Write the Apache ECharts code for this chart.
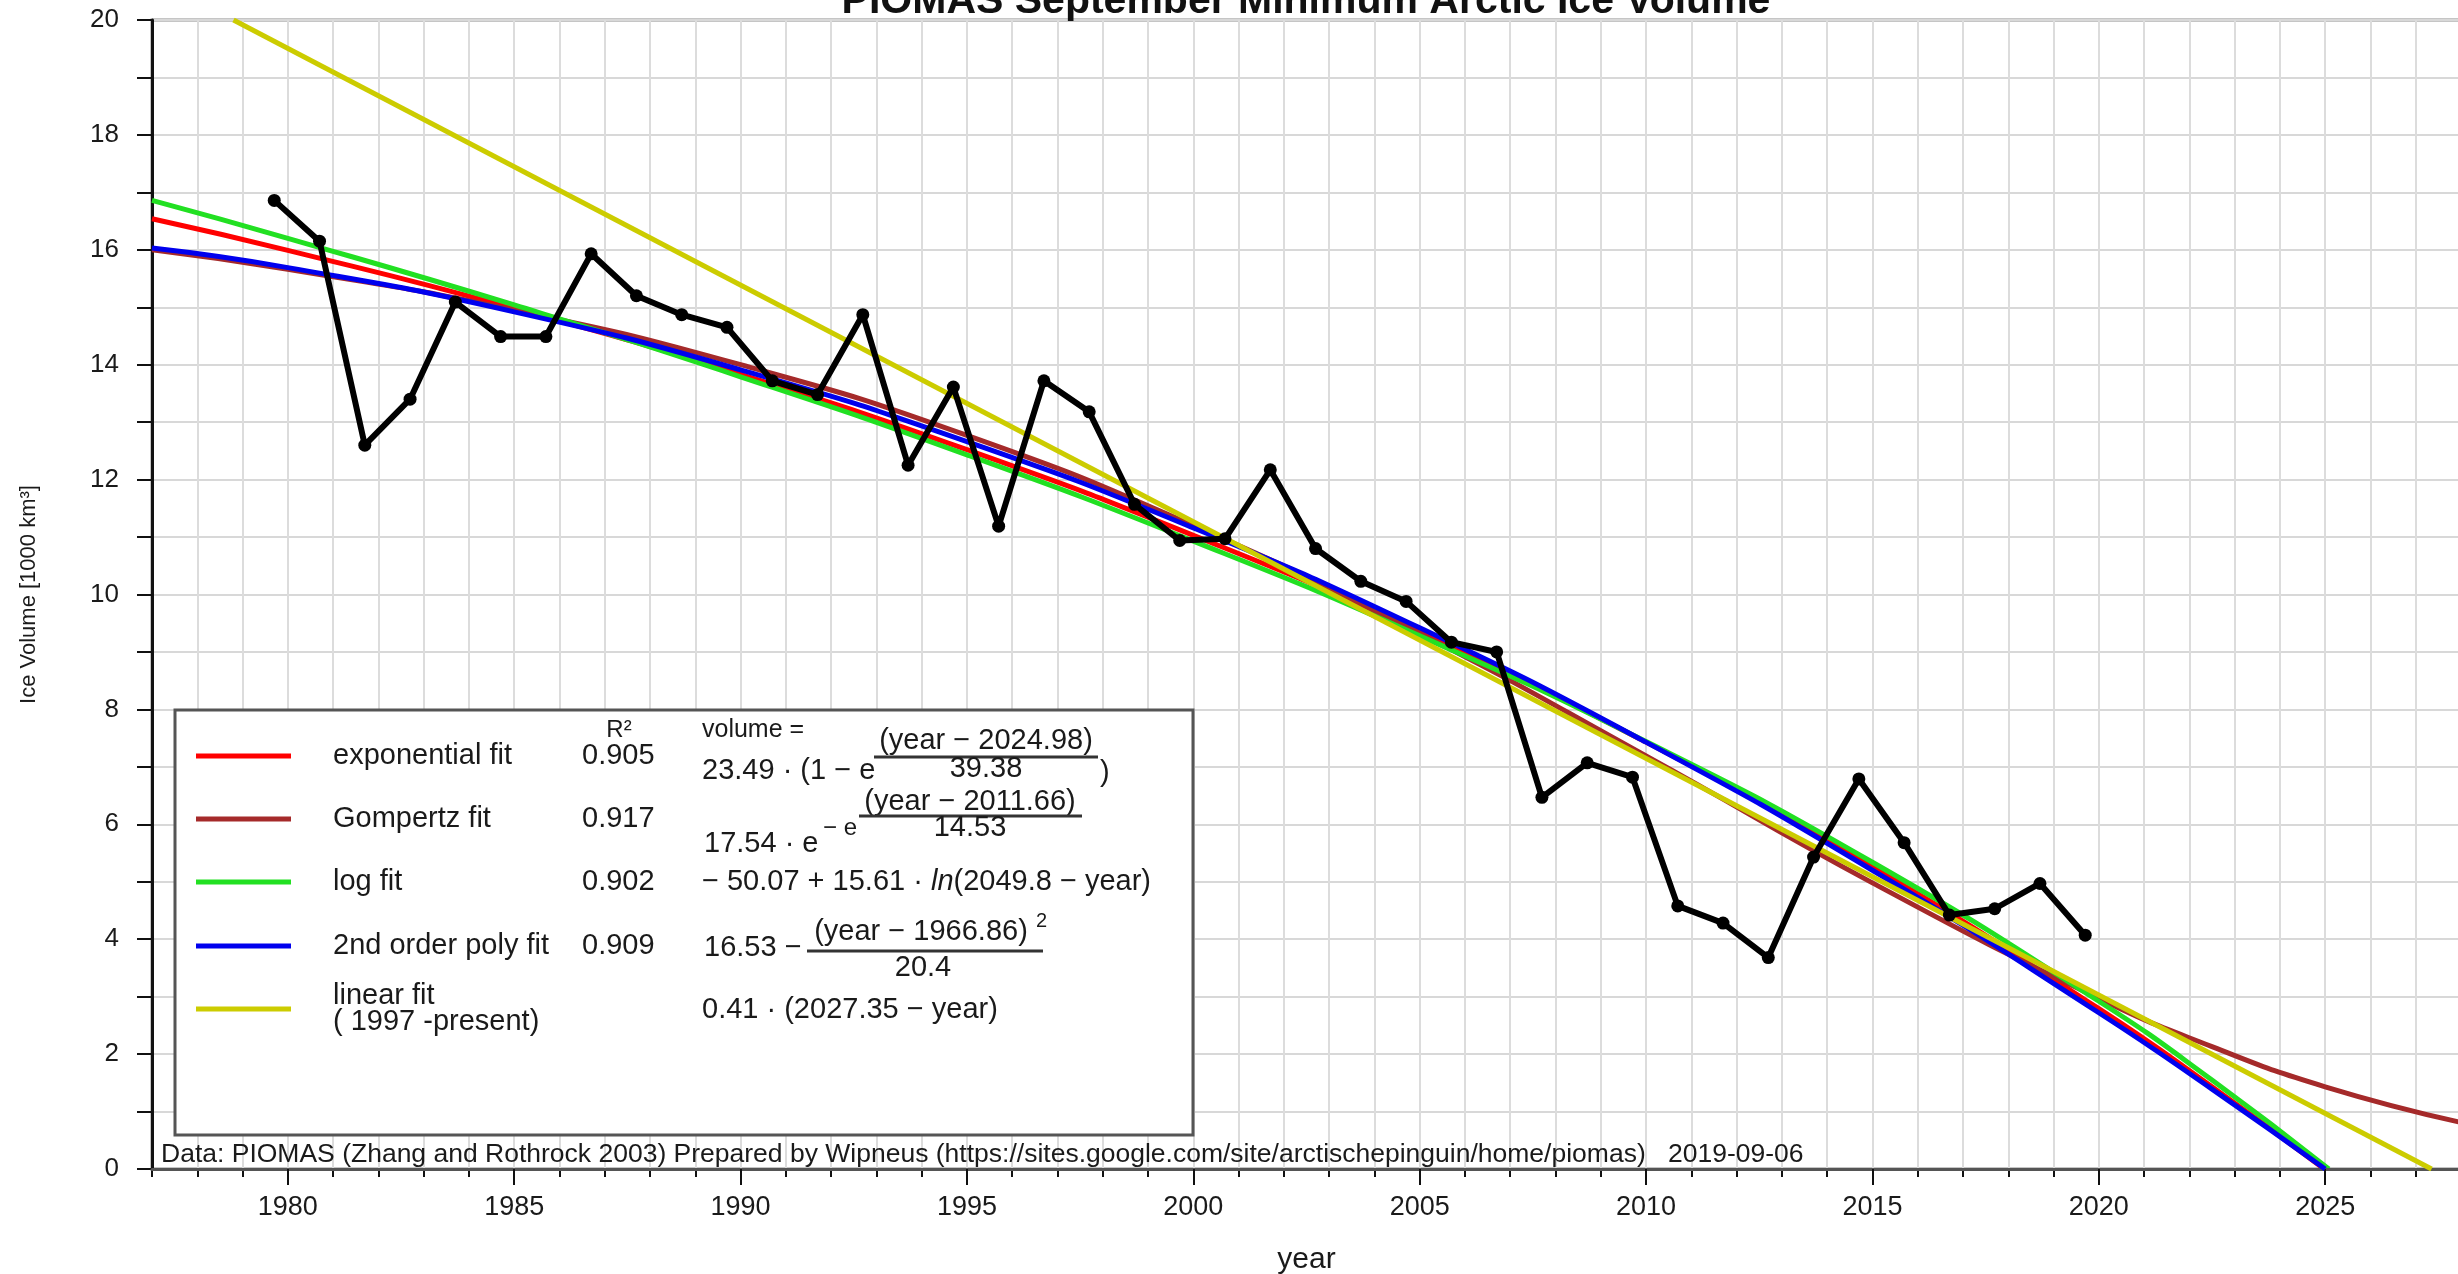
<!DOCTYPE html>
<html>
<head>
<meta charset="utf-8">
<title>PIOMAS September Minimum Arctic Ice Volume</title>
<script src="https://cdn.jsdelivr.net/npm/echarts@6/dist/echarts.min.js"></script>
<style>
  html, body { margin: 0; padding: 0; background: #fff; }
  #chart { width: 2458px; height: 1274px; }
</style>
</head>
<body>
<div id="chart"></div>
<script>
// PIOMAS September minimum (1000 km3)
const years = [1979, 1980, 1981, 1982, 1983, 1984, 1985, 1986, 1987, 1988,
  1989, 1990, 1991, 1992, 1993, 1994, 1995, 1996, 1997, 1998,
  1999, 2000, 2001, 2002, 2003, 2004, 2005, 2006, 2007, 2008,
  2009, 2010, 2011, 2012, 2013, 2014, 2015, 2016, 2017, 2018, 2019];
const volume = [16.86, 16.15, 12.60, 13.40, 15.09, 14.49, 14.49, 15.93, 15.20, 14.87,
  14.65, 13.72, 13.48, 14.87, 12.25, 13.61, 11.19, 13.72, 13.18, 11.57,
  10.94, 10.97, 12.17, 10.80, 10.23, 9.88, 9.17, 9.00, 6.47, 7.07,
  6.82, 4.58, 4.28, 3.68, 5.43, 6.79, 5.68, 4.42, 4.53, 4.97, 4.07];
const septemberOffset = 0.7; // minimum is plotted at mid-September

// fit curves, sampled off the plot
const expYears = [1977, 1980, 1985, 1990, 1995, 2000, 2005, 2010, 2015, 2020, 2022.5, 2024.98];
const expValues = [16.54, 15.99, 14.98, 13.83, 12.52, 11.03, 9.35, 7.43, 5.26, 2.79, 1.43, 0];
const gompYears = [1977, 1980, 1985, 1990, 1995, 2000, 2005, 2010, 2015, 2020, 2022.5, 2025, 2028];
const gompValues = [16.00, 15.66, 14.95, 14.00, 12.77, 11.20, 9.32, 7.19, 4.98, 2.97, 2.13, 1.43, 0.81];
const logYears = [1977, 1980, 1985, 1990, 1995, 2000, 2005, 2010, 2015, 2020, 2022.5, 2025.08];
const logValues = [16.86, 16.20, 15.04, 13.79, 12.43, 10.93, 9.28, 7.44, 5.34, 2.92, 1.55, 0];
const polyYears = [1977, 1980, 1985, 1990, 1995, 2000, 2005, 2010, 2015, 2020, 2022.5, 2025];
const polyValues = [16.03, 15.69, 14.92, 13.91, 12.66, 11.16, 9.42, 7.43, 5.20, 2.72, 1.39, 0];
const linYears = [1978.8, 2027.35];
const linValues = [20, 0];

const xLabelYears = [1980, 1985, 1990, 1995, 2000, 2005, 2010, 2015, 2020, 2025];

const FONT = "'Liberation Sans', Arial, Helvetica, sans-serif";
const TXT = '#1a1a1a';
const LG = 29; // legend text size

const pairs = (xs, ys) => xs.map((x, i) => [x, ys[i]]);

const chart = echarts.init(document.getElementById('chart'));

function txt(text, x, y, size) {
  return {
    type: 'text',
    z: 110,
    style: {
      text: text, x: x, y: y,
      font: size + 'px ' + FONT,
      fill: TXT,
      align: 'left', verticalAlign: 'middle',
      textAlign: 'left', textVerticalAlign: 'middle'
    }
  };
}
function ctxt(text, x, y, size) {
  const t = txt(text, x, y, size);
  t.style.align = 'center';
  t.style.textAlign = 'center';
  return t;
}
function hline(x1, x2, y, color, w) {
  return { type: 'line', z: 110, shape: { x1: x1, y1: y, x2: x2, y2: y },
    style: { stroke: color, lineWidth: w } };
}

const rows = [756, 819, 882, 946, 1009];
const legendColors = ['#ff0000', '#a52a2a', '#22e022', '#0000ee', '#cccc00'];

const graphics = [
  // title (partly cut off at the top edge)
  { type: 'text', z: 110, style: {
      text: 'PIOMAS September Minimum Arctic Ice Volume', x: 1306, y: 2,
      font: 'bold 41px ' + FONT, fill: '#111',
      align: 'center', verticalAlign: 'middle', textAlign: 'center', textVerticalAlign: 'middle' } },
  // legend box
  { type: 'rect', z: 100, shape: { x: 175, y: 710, width: 1018, height: 425 },
    style: { fill: '#fff', stroke: '#555', lineWidth: 3 } },
  ctxt('R²', 619, 730, 24),
  txt('volume =', 702, 730, 25),
  txt('exponential fit', 333, rows[0], LG),
  txt('Gompertz fit', 333, rows[1], LG),
  txt('log fit', 333, rows[2], LG),
  txt('2nd order poly fit', 333, rows[3], LG),
  txt('linear fit', 333, 996, LG),
  txt('( 1997 -present)', 333, 1022, LG),
  txt('0.905', 582, rows[0], LG),
  txt('0.917', 582, rows[1], LG),
  txt('0.902', 582, rows[2], LG),
  txt('0.909', 582, rows[3], LG),
  // exponential formula
  txt('23.49 · (1 − e', 702, 771, LG),
  ctxt('(year − 2024.98)', 986, 741, LG),
  hline(874, 1098, 757, '#333', 3),
  ctxt('39.38', 986, 769, LG),
  txt(')', 1100, 773, LG),
  // Gompertz formula
  ctxt('(year − 2011.66)', 970, 802, LG),
  hline(859, 1082, 816, '#333', 3),
  ctxt('14.53', 970, 828, LG),
  txt('17.54 · e', 704, 844, LG),
  txt('− e', 823, 828, 24),
  // log formula
  { type: 'text', z: 110, style: {
      text: '{a|− 50.07 + 15.61 · }{i|ln}{a|(2049.8 − year)}', x: 702, y: rows[2],
      fill: TXT, align: 'left', verticalAlign: 'middle', textAlign: 'left', textVerticalAlign: 'middle',
      rich: {
        a: { fontFamily: FONT, fontSize: LG, fill: TXT, color: TXT },
        i: { fontFamily: FONT, fontSize: LG, fontStyle: 'italic', fill: TXT, color: TXT }
      } } },
  // poly formula
  txt('16.53 −', 704, 948, LG),
  ctxt('(year − 1966.86)', 921, 932, LG),
  txt('2', 1036, 921, 20),
  hline(807, 1043, 951, '#333', 3),
  ctxt('20.4', 923, 968, LG),
  // linear formula
  txt('0.41 · (2027.35 − year)', 702, 1010, LG),
  // footer
  txt('Data: PIOMAS (Zhang and Rothrock 2003) Prepared by Wipneus (https://sites.google.com/site/arctischepinguin/home/piomas)', 161, 1155, 26.5),
  txt('2019-09-06', 1668, 1155, 26.5)
];
rows.forEach((y, i) => graphics.push(hline(196, 291, y, legendColors[i], 5)));

function fitSeries(name, xs, ys, color, z) {
  return {
    name: name, type: 'line', xAxisIndex: 0, yAxisIndex: 0,
    data: pairs(xs, ys), smooth: true, showSymbol: false, symbol: 'none',
    lineStyle: { color: color, width: 5 }, z: z, silent: true, animation: false
  };
}

const option = {
  backgroundColor: '#fff',
  animation: false,
  grid: {
    left: 152, right: -3, top: 20, bottom: 105,
    outerBoundsMode: 'none', containLabel: false,
    show: true, borderColor: '#8c8c8c', borderWidth: 3, backgroundColor: 'transparent'
  },
  xAxis: [
    {
      type: 'value', min: 1977, max: 2028, position: 'bottom',
      name: 'year', nameLocation: 'middle', nameGap: 76,
      nameTextStyle: { fontFamily: FONT, fontSize: 30, color: TXT },
      axisLine: { show: true, onZero: false, lineStyle: { color: '#555', width: 3 } },
      axisTick: { show: true, customValues: xLabelYears, length: 16, lineStyle: { color: '#111', width: 2 } },
      axisLabel: {
        customValues: xLabelYears, fontFamily: FONT, fontSize: 27, color: TXT, margin: 25,
        formatter: (v) => String(v)
      },
      splitLine: { show: false },
      z: 5
    },
    {
      type: 'value', min: 1977, max: 2028, interval: 1, position: 'bottom', offset: 0,
      axisLine: { show: false },
      axisTick: { show: true, length: 8, lineStyle: { color: '#111', width: 2 } },
      axisLabel: { show: false },
      splitLine: { show: true, lineStyle: { color: '#dcdcdc', width: 2 } }
    }
  ],
  yAxis: {
    type: 'value', min: 0, max: 20, interval: 2,
    name: 'Ice Volume [1000 km³]', nameLocation: 'middle', nameGap: 112, nameRotate: 90,
    nameTextStyle: { fontFamily: FONT, fontSize: 22, color: TXT },
    axisLine: { show: true, lineStyle: { color: '#111', width: 3 } },
    axisTick: { show: true, length: 15, lineStyle: { color: '#111', width: 2 } },
    minorTick: { show: true, splitNumber: 2, length: 15, lineStyle: { color: '#111', width: 2 } },
    axisLabel: { fontFamily: FONT, fontSize: 26, color: TXT, margin: 33 },
    splitLine: { show: true, lineStyle: { color: '#d8d8d8', width: 2 } },
    minorSplitLine: { show: true, lineStyle: { color: '#d8d8d8', width: 2 } }
  },
  series: [
    fitSeries('exponential fit', expYears, expValues, '#ff0000', 2),
    fitSeries('Gompertz fit', gompYears, gompValues, '#a52a2a', 3),
    fitSeries('log fit', logYears, logValues, '#22e022', 4),
    fitSeries('2nd order poly fit', polyYears, polyValues, '#0000ee', 5),
    fitSeries('linear fit', linYears, linValues, '#cccc00', 6),
    {
      name: 'PIOMAS', type: 'line', xAxisIndex: 0, yAxisIndex: 0,
      data: years.map((y, i) => [y + septemberOffset, volume[i]]),
      symbol: 'circle', symbolSize: 13, showSymbol: true,
      lineStyle: { color: '#000', width: 6 },
      itemStyle: { color: '#000' },
      z: 8, animation: false
    }
  ],
  graphic: graphics
};

chart.setOption(option);
</script>
</body>
</html>
